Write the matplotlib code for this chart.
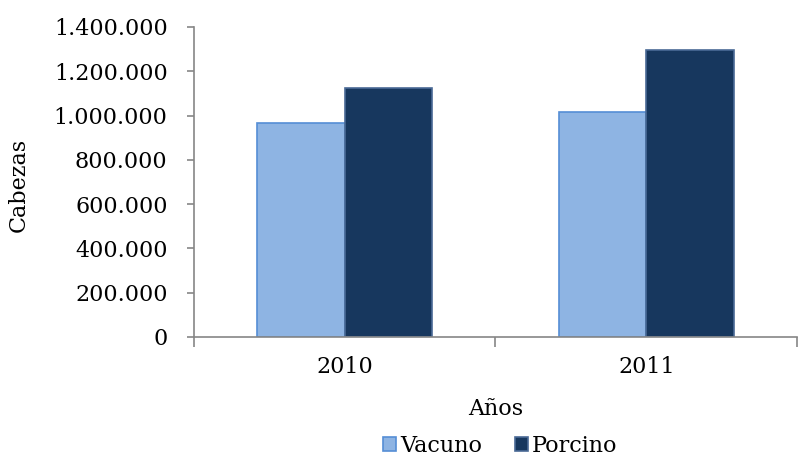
import matplotlib.pyplot as plt
import numpy as np
from matplotlib.ticker import FuncFormatter, FixedLocator

years = ["2010", "2011"]
vacuno = [965000, 1018000]
porcino = [1126000, 1297000]

plt.rcParams["font.family"] = ["DejaVu Serif"]

fig = plt.figure(figsize=(7.99, 4.58), dpi=100)
ax = fig.add_axes([0.2428, 0.2642, 0.7547, 0.677])

x = np.arange(len(years))
w = 0.29
ax.bar(x - w / 2, vacuno, w, color="#8EB4E3", edgecolor="#558ED5", lw=1.2, label="Vacuno")
ax.bar(x + w / 2, porcino, w, color="#17375E", edgecolor="#4A6A96", lw=1.2, label="Porcino")

ax.set_xlim(-0.5, 1.5)
ax.set_ylim(0, 1400000)
ax.set_yticks(np.arange(0, 1400001, 200000))
ax.yaxis.set_major_formatter(FuncFormatter(lambda v, p: f"{int(v):,}".replace(",", ".")))

# category labels at centres, tick marks on category boundaries
ax.set_xticks(x)
ax.set_xticklabels(years)
ax.xaxis.set_minor_locator(FixedLocator([-0.5, 0.5, 1.5]))
ax.tick_params(axis="x", which="major", length=0, labelsize=16, pad=14)
ax.tick_params(axis="x", which="minor", length=7, color="#868686", width=1.2)
ax.tick_params(axis="y", length=5, color="#868686", width=1.2, labelsize=16, pad=14)

for s in ["top", "right"]:
    ax.spines[s].set_visible(False)
for s in ["left", "bottom"]:
    ax.spines[s].set_color("#868686")
    ax.spines[s].set_linewidth(1.2)

ax.set_ylabel("Cabezas", fontsize=16)
ax.yaxis.set_label_coords(-0.272, 0.49)
fig.text(0.621, 0.108, "Años", ha="center", va="center", fontsize=16)

fig.legend(loc="center", bbox_to_anchor=(0.626, 0.026), ncol=2, frameon=False,
           fontsize=16, handlelength=0.6, handleheight=0.6, handletextpad=0.15,
           columnspacing=1.5, borderaxespad=0)

fig.savefig("out.png", dpi=100)
